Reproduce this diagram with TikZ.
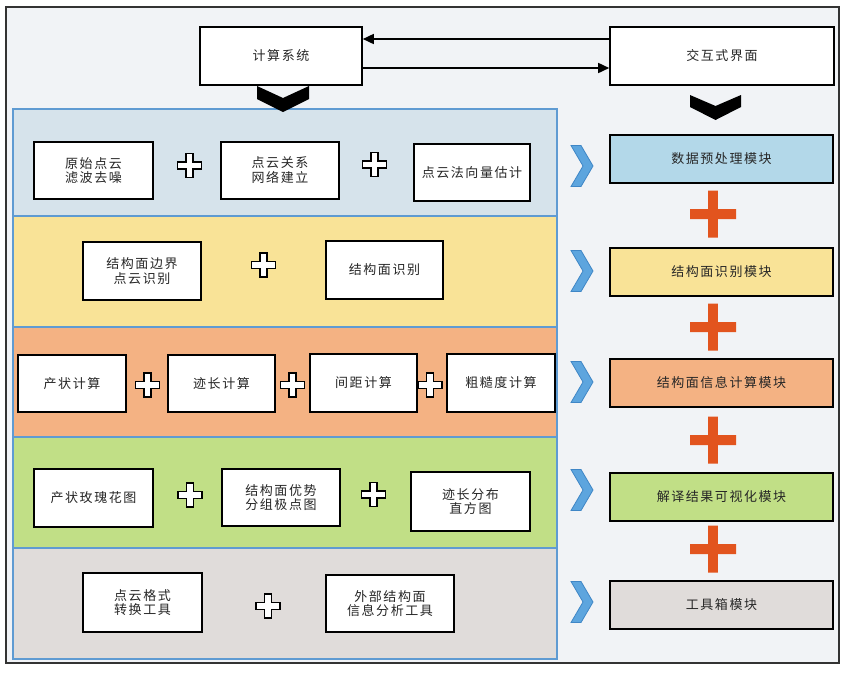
\documentclass[tikz,border=0pt]{standalone}
\usepackage{fontspec}
\newfontfamily\cjk[LetterSpace=12]{Noto Sans CJK SC}
\usetikzlibrary{arrows.meta}
\definecolor{framebg}{HTML}{F1F3F6}
\definecolor{bandblue}{HTML}{D6E3EB}
\definecolor{modblue}{HTML}{B3D8E9}
\definecolor{byellow}{HTML}{F9E397}
\definecolor{borange}{HTML}{F4B283}
\definecolor{bgreen}{HTML}{C1DF86}
\definecolor{bgray}{HTML}{E0DCDA}
\definecolor{bandline}{HTML}{5F9BD2}
\definecolor{oplusc}{HTML}{E2541E}
\definecolor{chevfill}{HTML}{5DA5DE}
\definecolor{chevdraw}{HTML}{3F86C6}
\tikzset{
  tx/.style={font=\cjk\fontsize{13}{14.5}\selectfont, text=black!85, align=center},
  wbox/.style={tx, draw=black, line width=2pt, fill=white, inner sep=0pt},
  topbox/.style={tx, draw=black, line width=1.6pt, fill=white, inner sep=0pt},
  modbox/.style={tx, draw=black, line width=2pt, inner sep=0pt, minimum width=223pt, minimum height=48pt},
  band/.style={draw=bandline, line width=1.8pt},
  arr/.style={line width=1.6pt, -{Triangle[length=11pt,width=10pt]}},
  wplus/.pic={\draw[line width=1.6pt, fill=white, line join=miter]
    (-3.6,-12) -- (3.6,-12) -- (3.6,-3.6) -- (12,-3.6) -- (12,3.6) -- (3.6,3.6) --
    (3.6,12) -- (-3.6,12) -- (-3.6,3.6) -- (-12,3.6) -- (-12,-3.6) -- (-3.6,-3.6) -- cycle;},
  oplus/.pic={\fill[oplusc]
    (-4.8,-23.5) -- (4.8,-23.5) -- (4.8,-5) -- (23,-5) -- (23,5) -- (4.8,5) --
    (4.8,23.5) -- (-4.8,23.5) -- (-4.8,5) -- (-23,5) -- (-23,-5) -- (-4.8,-5) -- cycle;},
  bchev/.pic={\draw[fill=chevfill, draw=chevdraw, line width=0.8pt, line join=miter]
    (-11,-20.5) -- (-1,-20.5) -- (11,0) -- (-1,20.5) -- (-11,20.5) -- (1,0) -- cycle;},
}
\begin{document}
\begin{tikzpicture}[x=1pt,y=-1pt]
\useasboundingbox (0,0) rectangle (853,681);
% outer frame
\draw[line width=1.6pt, draw=black!80, fill=framebg] (6,7) rectangle (839,663);
% bands
\fill[bandblue] (13,109) rectangle (557,216);
\fill[byellow] (13,216) rectangle (557,327);
\fill[borange] (13,327) rectangle (557,437);
\fill[bgreen] (13,437) rectangle (557,548);
\fill[bgray] (13,548) rectangle (557,659);
\draw[band] (13,109) rectangle (557,216);
\draw[band] (13,216) rectangle (557,327);
\draw[band] (13,327) rectangle (557,437);
\draw[band] (13,437) rectangle (557,548);
\draw[band] (13,548) rectangle (557,659);
% top boxes
\node[topbox, minimum width=162pt, minimum height=58pt] (calc) at (281,56) {计算系统};
\node[topbox, minimum width=224pt, minimum height=58pt] (inter) at (722,56) {交互式界面};
\coordinate (ya) at (0,39);
\coordinate (yb) at (0,68);
\draw[arr] (inter.west |- ya) -- (calc.east |- ya);
\draw[arr] (calc.east |- yb) -- (inter.west |- yb);
% black chevrons
\fill[black] (257,86) -- (283,98) -- (309,86) -- (309,99) -- (283,112) -- (257,99) -- cycle;
\fill[black] (690,95) -- (715.5,106) -- (741,95) -- (741,107) -- (715.5,120) -- (690,107) -- cycle;
% blue band
\node[wbox, minimum width=119pt, minimum height=57pt] (b1) at (93.5,170.5) {原始点云\\滤波去噪};
\node[wbox, minimum width=118pt, minimum height=57pt] (b2) at (280,170) {点云关系\\网络建立};
\node[wbox, minimum width=116pt, minimum height=57pt] (b3) at (472,172.5) {点云法向量估计};
\pic at (189.5,165.5) {wplus};
\pic at (374.5,164.5) {wplus};
% yellow band
\node[wbox, minimum width=118pt, minimum height=58pt] (y1) at (142,271) {结构面边界\\点云识别};
\node[wbox, minimum width=117pt, minimum height=58pt] (y2) at (384.5,270) {结构面识别};
\pic at (263.5,265) {wplus};
% orange band
\node[wbox, minimum width=108pt, minimum height=57pt] (o1) at (72,383.5) {产状计算};
\node[wbox, minimum width=107pt, minimum height=57pt] (o2) at (221.5,383.5) {迹长计算};
\node[wbox, minimum width=107pt, minimum height=58pt] (o3) at (363.5,382.5) {间距计算};
\node[wbox, minimum width=108pt, minimum height=58pt] (o4) at (501,382.5) {粗糙度计算};
\pic at (147.5,385) {wplus};
\pic at (292.5,385) {wplus};
\pic at (430,385) {wplus};
% green band
\node[wbox, minimum width=119pt, minimum height=58pt] (g1) at (93.5,497.5) {产状玫瑰花图};
\node[wbox, minimum width=118pt, minimum height=57pt] (g2) at (281,497.5) {结构面优势\\分组极点图};
\node[wbox, minimum width=119pt, minimum height=59pt] (g3) at (470.5,501.5) {迹长分布\\直方图};
\pic at (190,495) {wplus};
\pic at (373.5,494.5) {wplus};
% gray band
\node[wbox, minimum width=119pt, minimum height=59pt] (r1) at (142.5,602.5) {点云格式\\转换工具};
\node[wbox, minimum width=128pt, minimum height=57pt] (r2) at (390,603.5) {外部结构面\\信息分析工具};
\pic at (268,606) {wplus};
% right modules
\node[modbox, fill=modblue] (m1) at (721.5,159) {数据预处理模块};
\node[modbox, fill=byellow] (m2) at (721.5,271.5) {结构面识别模块};
\node[modbox, fill=borange] (m3) at (721.5,383) {结构面信息计算模块};
\node[modbox, fill=bgreen] (m4) at (721.5,497) {解译结果可视化模块};
\node[modbox, fill=bgray] (m5) at (721.5,605) {工具箱模块};
\pic at (713,214) {oplus};
\pic at (713,327) {oplus};
\pic at (713,440) {oplus};
\pic at (713,549) {oplus};
% blue chevrons
\pic at (582,166) {bchev};
\pic at (582,271) {bchev};
\pic at (582,382) {bchev};
\pic at (582,490) {bchev};
\pic at (582,602) {bchev};
\end{tikzpicture}
\end{document}
